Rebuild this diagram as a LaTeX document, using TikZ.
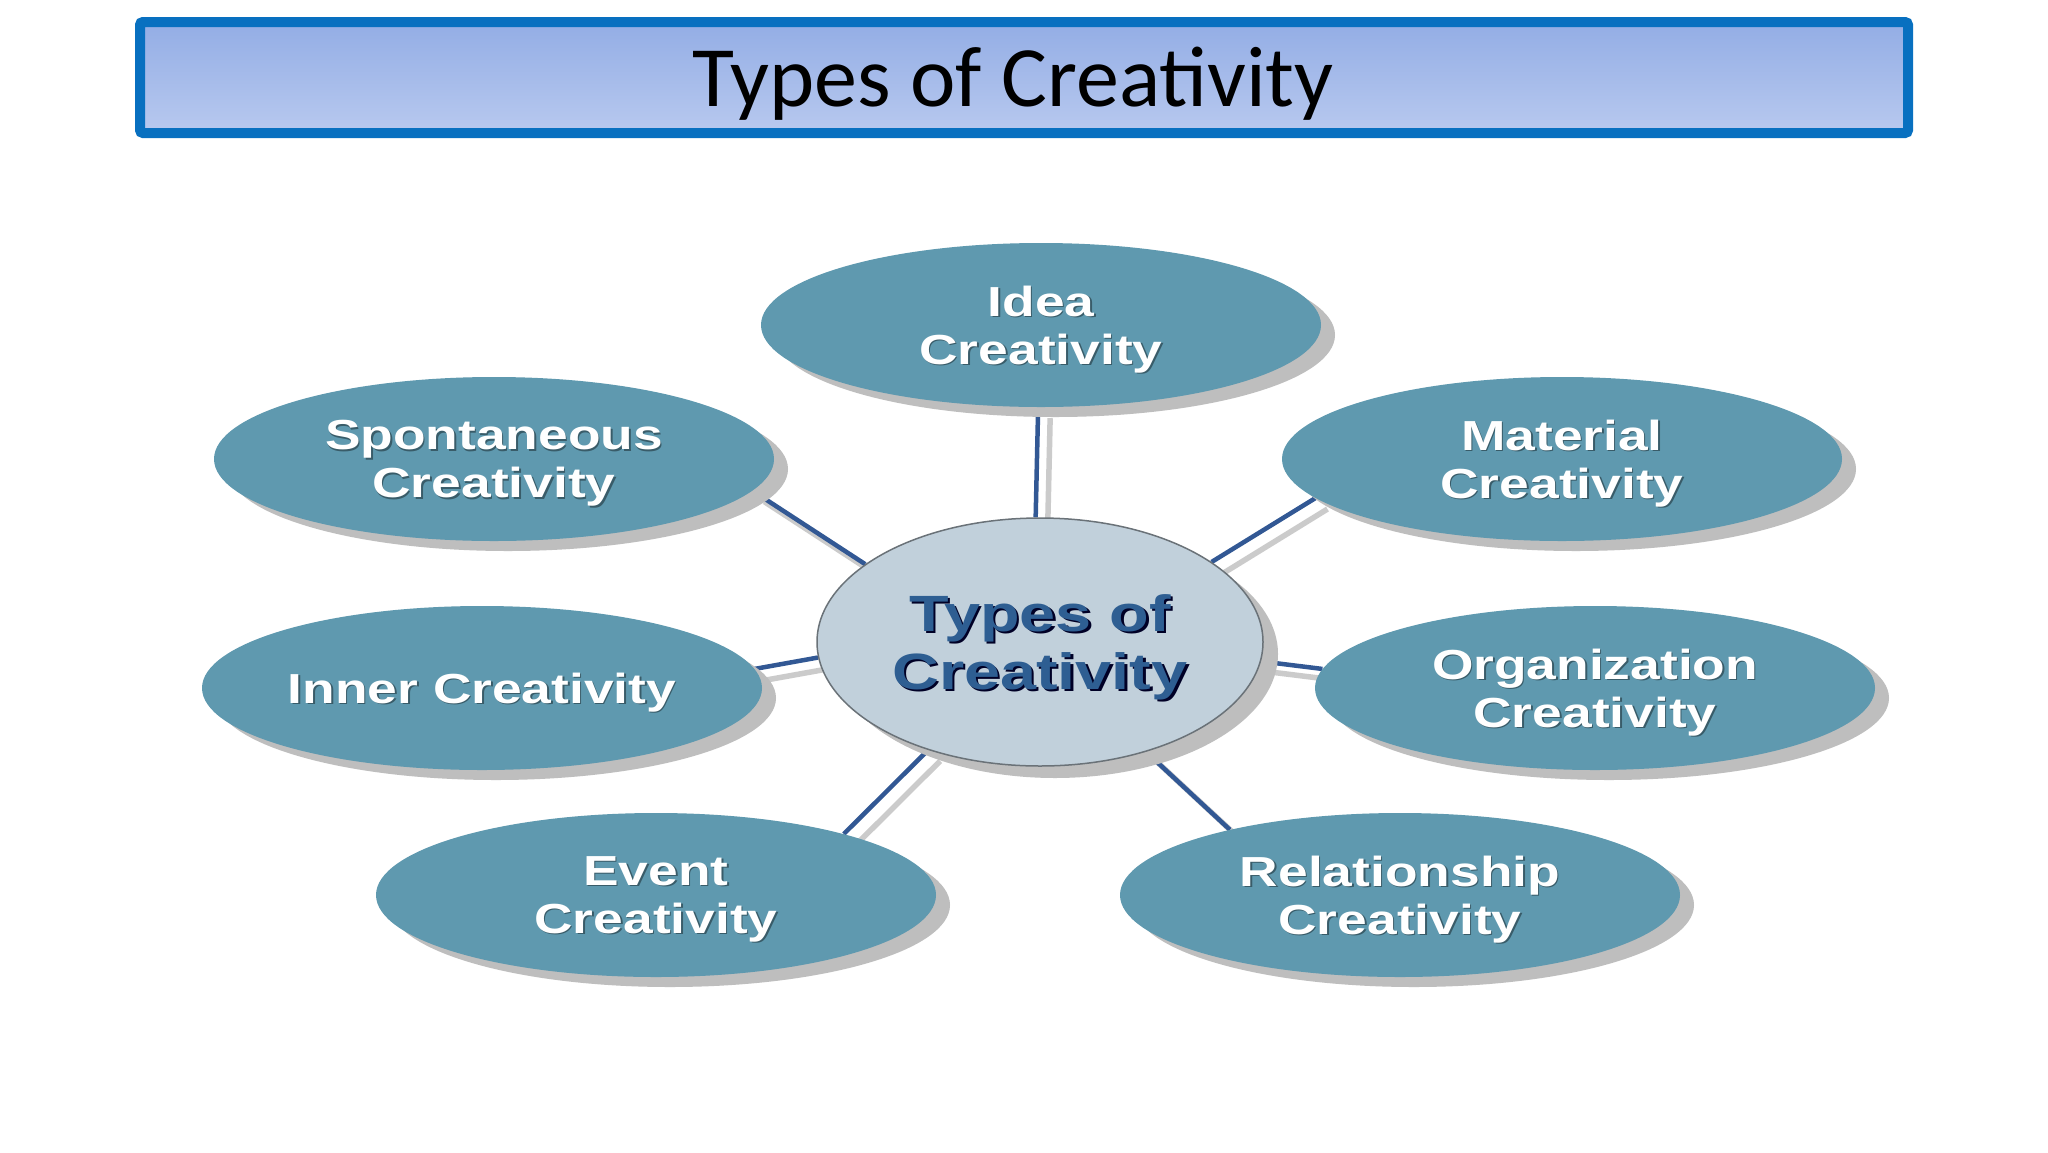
\documentclass[tikz,border=0pt]{standalone}
\usepackage{fontspec}
\setmainfont{Liberation Sans}
\newfontfamily\titlefont{Carlito}
\newfontfamily\boxfont{Liberation Sans}[FakeStretch=1.27]
\usetikzlibrary{shapes.geometric,shadows,backgrounds}
\definecolor{tealfill}{RGB}{95,153,175}
\definecolor{shad}{RGB}{190,190,190}
\definecolor{linkblue}{RGB}{50,88,148}
\definecolor{centerfill}{RGB}{193,208,219}
\definecolor{centertxt}{RGB}{46,94,146}
\definecolor{titleborder}{RGB}{8,112,192}
\definecolor{titletop}{RGB}{147,173,229}
\definecolor{titlebot}{RGB}{184,201,239}
\newcommand\shl[3][1.5pt]{\makebox[0pt][l]{\kern#1\raisebox{-#1}{\textcolor{#2}{#3}}}#3}
\newcommand\wl[1]{\shl{tealfill!60!black}{#1}}
\newcommand\cl[1]{\shl[2.5pt]{black!85!blue}{#1}}
\begin{document}
\begin{tikzpicture}[x=1pt,y=-1pt,
  outer/.style={ellipse, fill=tealfill, minimum width=560pt, minimum height=164pt,
    inner sep=0pt, text=white, align=center, text depth=-4pt,
    font=\boxfont\bfseries\fontsize{42}{48}\selectfont,
    drop shadow={shadow xshift=14pt, shadow yshift=-10pt, fill=shad, opacity=1}},
  hub/.style={ellipse, fill=centerfill, draw=black!45!centerfill, line width=1.5pt,
    minimum width=446pt, minimum height=248pt, inner sep=0pt, text=centertxt, align=center,
    text depth=-5pt,
    font=\boxfont\bfseries\fontsize{51}{58}\selectfont,
    drop shadow={shadow xshift=15pt, shadow yshift=-12pt, fill=shad, opacity=1}},
  link/.style={line width=4.5pt, draw=linkblue},
  linkshadow/.style={line width=5.5pt, draw=shad!80!white},
  titlebox/.style={draw=titleborder, line width=10pt, rounded corners=3pt,
    top color=titletop, bottom color=titlebot}]
\useasboundingbox (0,0) rectangle (2048,1152);

% title
\node[titlebox, minimum width=1768pt, minimum height=111pt, inner sep=0pt] (titlebar) at (1024,77.5) {};
\node[font=\titlefont\fontsize{86}{92}\selectfont, anchor=base] (title) at (1013,106) {Types of Creativity};

% nodes
\node[hub] (c) at (1040,642) {\cl{Types of}\\\cl{Creativity}};
\node[outer] (idea) at (1041,325) {\wl{Idea}\\\wl{Creativity}};
\node[outer] (sp) at (494,459) {\wl{Spontaneous}\\\wl{Creativity}};
\node[outer] (mat) at (1562,459) {\wl{Material}\\\wl{Creativity}};
\node[outer] (inn) at (482,688) {\wl{Inner Creativity}};
\node[outer] (org) at (1595,688) {\wl{Organization}\\\wl{Creativity}};
\node[outer] (ev) at (656,895) {\wl{Event}\\\wl{Creativity}};
\node[outer] (rel) at (1400,895) {\wl{Relationship}\\\wl{Creativity}};

% connectors
\begin{scope}[on background layer]
  \fill[white] (0,0) rectangle (2048,1152);
  \foreach \a/\b/\p/\q in {c/idea/92/-92, c/sp/156/-7, c/mat/25/-171, c/inn/-176/4,
      c/org/-5/176, c/ev/224/18, c/rel/-46/159}{
    \draw[linkshadow] ([shift={(12,11)}]\a.\p) -- ([shift={(12,11)}]\b.\q);
  }
  \foreach \a/\b/\p/\q in {c/idea/92/-92, c/sp/156/-7, c/mat/25/-171, c/inn/-176/4,
      c/org/-5/176, c/ev/224/18, c/rel/-46/159}{
    \draw[link] (\a.\p) -- (\b.\q);
  }
\end{scope}
\end{tikzpicture}
\end{document}
